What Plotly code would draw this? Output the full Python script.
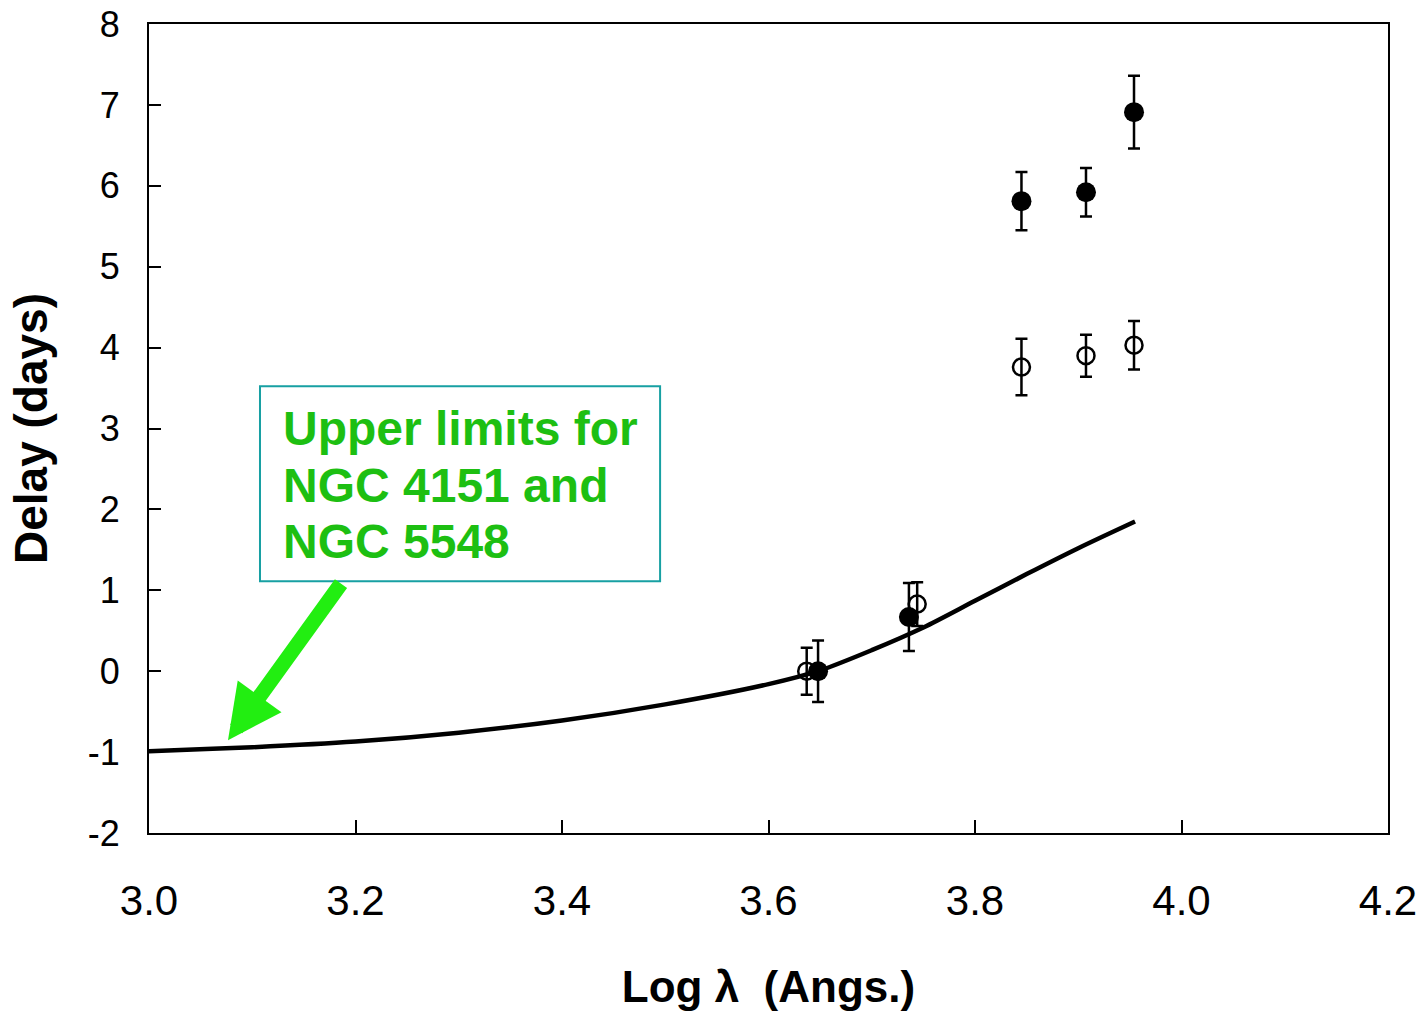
import plotly.graph_objects as go

# Model curve
curve_x = [2.991, 3.0, 3.1, 3.2, 3.3, 3.4, 3.5, 3.6, 3.65, 3.7, 3.75, 3.8, 3.85, 3.9, 3.955]
curve_y = [-1.0, -0.99, -0.94, -0.87, -0.76, -0.61, -0.41, -0.16, 0.01, 0.26, 0.54, 0.87, 1.20, 1.52, 1.85]

# Filled points
filled_x = [3.648, 3.736, 3.845, 3.9075, 3.954]
filled_y = [0.0, 0.67, 5.81, 5.92, 6.91]
filled_err = [0.38, 0.42, 0.36, 0.30, 0.45]

# Open points
open_x = [3.637, 3.744, 3.845, 3.9075, 3.954]
open_y = [0.0, 0.83, 3.76, 3.90, 4.03]
open_err = [0.29, 0.27, 0.35, 0.26, 0.30]

x_ticks = [3.0, 3.2, 3.4, 3.6, 3.8, 4.0, 4.2]
x_tick_labels = ["3.0", "3.2", "3.4", "3.6", "3.8", "4.0", "4.2"]
y_ticks = [-2, -1, 0, 1, 2, 3, 4, 5, 6, 7, 8]
y_tick_labels = ["-2", "-1", "0", "1", "2", "3", "4", "5", "6", "7", "8"]

note_lines = ["Upper limits for", "NGC 4151 and", "NGC 5548"]
note_line_y = [3.0, 2.29, 1.60]

FONT = "Liberation Sans, Arial, Helvetica, sans-serif"

fig = go.Figure()

fig.add_trace(go.Scatter(
    x=curve_x, y=curve_y, mode="lines",
    line=dict(color="black", width=4.5, shape="spline", smoothing=0.8),
    showlegend=False, cliponaxis=False, hoverinfo="skip"))

fig.add_trace(go.Scatter(
    x=open_x, y=open_y, mode="markers",
    marker=dict(symbol="circle-open", size=17, color="black", line=dict(width=2.5, color="black")),
    error_y=dict(type="data", array=open_err, visible=True, color="black", thickness=2.5, width=6),
    showlegend=False))

fig.add_trace(go.Scatter(
    x=filled_x, y=filled_y, mode="markers",
    marker=dict(symbol="circle", size=20, color="black"),
    error_y=dict(type="data", array=filled_err, visible=True, color="black", thickness=2.5, width=6),
    showlegend=False))

# Annotation box
fig.add_shape(type="rect", xref="x", yref="y",
              x0=3.1075, x1=3.495, y0=1.112, y1=3.523,
              line=dict(color="#17a0a3", width=2), fillcolor="white", layer="above")

for txt, ly in zip(note_lines, note_line_y):
    fig.add_annotation(x=3.128, y=ly, xref="x", yref="y",
                       text=txt, showarrow=False, xanchor="left", yanchor="middle",
                       align="left",
                       font=dict(family=FONT, size=48, color="#1dbf12", weight="bold"))

# Green arrow
fig.add_annotation(x=3.0765, y=-0.853, xref="x", yref="y",
                   ax=3.187, ay=1.10, axref="x", ayref="y",
                   text="", showarrow=True, arrowhead=2, arrowsize=0.72,
                   arrowwidth=15, arrowcolor="#22ee11", standoff=0)

fig.update_layout(
    width=1426, height=1015,
    margin=dict(l=149, r=38, t=24, b=182),
    paper_bgcolor="white", plot_bgcolor="white",
    font=dict(family=FONT, color="black"),
    xaxis=dict(
        range=[3.0, 4.2], tickvals=x_ticks, ticktext=x_tick_labels,
        showgrid=False, zeroline=False, automargin=False,
        showline=True, linecolor="black", linewidth=2, mirror=True,
        ticks="inside", ticklen=13, tickwidth=2, tickcolor="black",
        tickfont=dict(size=42, family=FONT), ticklabelstandoff=30,
        title=dict(text="<b>Log λ  (Angs.)</b>", font=dict(size=44, family=FONT), standoff=48),
    ),
    yaxis=dict(
        range=[-2, 8], tickvals=y_ticks, ticktext=y_tick_labels,
        showgrid=False, zeroline=False, automargin=False,
        showline=True, linecolor="black", linewidth=2, mirror=True,
        ticks="inside", ticklen=12, tickwidth=2, tickcolor="black",
        tickfont=dict(size=36, family=FONT), ticklabelstandoff=20,
        title=dict(text="<b>Delay (days)</b>", font=dict(size=46, family=FONT), standoff=26),
    ),
)

fig.write_html("out.html")
